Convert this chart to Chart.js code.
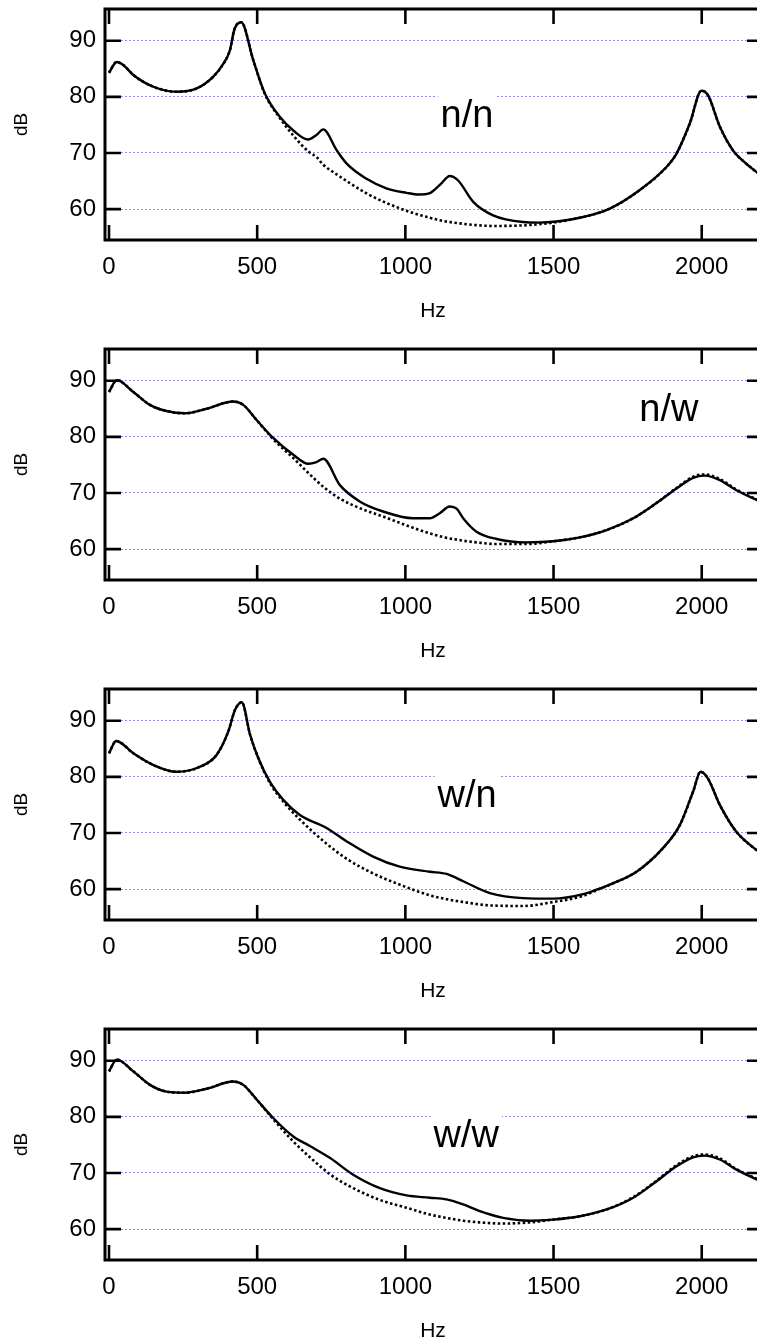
<!DOCTYPE html>
<html>
<head>
<meta charset="utf-8">
<script src="https://cdn.jsdelivr.net/npm/chart.js@4.4.1/dist/chart.umd.min.js"></script>
<style>
  html, body { margin: 0; padding: 0; background: #fff; overflow: hidden; }
  #wrap { width: 757px; height: 1344px; overflow: hidden; }
  .panel { width: 762px; height: 340px; }
  canvas { display: block; }
</style>
</head>
<body>
<div id="wrap">
  <div class="panel"><canvas id="cNN" width="762" height="340"></canvas></div>
  <div class="panel"><canvas id="cNW" width="762" height="340"></canvas></div>
  <div class="panel"><canvas id="cWN" width="762" height="340"></canvas></div>
  <div class="panel"><canvas id="cWW" width="762" height="340"></canvas></div>
</div>
<script>
// ── data (Hz / dB) ──
const X_TICKS = [0, 500, 1000, 1500, 2000];
const Y_TICKS = [60, 70, 80, 90];

// n/n
const NN_FREQ   = [0, 26, 50, 82, 150, 228, 296, 352, 386, 408, 423, 446, 487, 526, 577, 622, 672, 700, 723, 768, 802, 869, 936, 1004, 1045, 1080, 1116, 1150, 1178, 1229, 1296, 1397, 1450, 1510, 1600, 1690, 1791, 1881, 1915, 1960, 1999, 2021, 2061, 2105, 2150, 2200];
const NN_SOLID  = [84.3, 86.2, 85.6, 83.9, 81.8, 80.9, 81.5, 83.6, 85.9, 88.3, 92.0, 93.3, 86.5, 80.6, 76.4, 74.0, 72.4, 73.2, 74.2, 70.5, 68.1, 65.4, 63.7, 62.9, 62.6, 62.8, 64.3, 65.9, 65.1, 61.3, 58.9, 57.7, 57.6, 57.8, 58.6, 60.1, 63.4, 67.5, 69.9, 75.3, 81.1, 80.3, 74.7, 70.5, 68.1, 66.0];
const NN_DOTTED = [84.3, 86.2, 85.6, 83.9, 81.8, 80.9, 81.5, 83.6, 85.9, 88.3, 92.0, 93.3, 86.5, 80.5, 76.2, 73.1, 70.3, 69.3, 67.9, 66.2, 65.0, 62.8, 61.1, 59.7, 59.0, 58.5, 58.0, 57.7, 57.5, 57.2, 57.0, 57.1, 57.3, 57.7, 58.6, 60.1, 63.4, 67.5, 69.9, 75.3, 81.1, 80.3, 74.7, 70.5, 68.1, 66.0];

// n/w
const NW_FREQ   = [0, 26, 82, 138, 194, 256, 329, 419, 453, 498, 554, 622, 672, 700, 723, 779, 846, 925, 1026, 1082, 1116, 1150, 1173, 1195, 1240, 1308, 1409, 1499, 1589, 1679, 1769, 1847, 1915, 1971, 2010, 2061, 2117, 2200];
const NW_SOLID  = [88.0, 90.1, 88.0, 85.7, 84.6, 84.2, 85.0, 86.3, 85.7, 83.0, 79.8, 76.8, 75.2, 75.5, 76.1, 71.4, 68.5, 66.7, 65.5, 65.5, 66.4, 67.6, 67.2, 65.5, 63.1, 61.8, 61.2, 61.4, 62.1, 63.4, 65.5, 68.2, 70.8, 72.7, 73.1, 72.3, 70.5, 68.4];
const NW_DOTTED = [88.0, 90.1, 88.0, 85.7, 84.6, 84.2, 85.0, 86.3, 85.7, 83.0, 79.6, 76.2, 73.6, 72.2, 71.1, 69.0, 67.3, 65.8, 63.8, 62.8, 62.3, 61.9, 61.7, 61.5, 61.2, 60.9, 60.9, 61.4, 62.1, 63.4, 65.5, 68.2, 70.9, 72.9, 73.3, 72.5, 70.6, 68.5];

// w/n
const WN_FREQ   = [0, 24, 82, 150, 228, 307, 363, 402, 425, 448, 476, 504, 543, 588, 644, 734, 802, 891, 981, 1082, 1139, 1195, 1285, 1397, 1499, 1600, 1645, 1690, 1780, 1869, 1926, 1971, 1996, 2021, 2061, 2117, 2200];
const WN_SOLID  = [84.2, 86.4, 84.2, 82.1, 80.9, 81.8, 83.9, 88.0, 91.9, 93.3, 87.5, 83.3, 79.1, 75.9, 73.2, 70.9, 68.5, 65.8, 64.0, 63.1, 62.7, 61.4, 59.3, 58.4, 58.3, 59.1, 59.9, 60.8, 63.1, 67.3, 71.4, 77.4, 80.9, 79.7, 75.0, 70.2, 66.3];
const WN_DOTTED = [84.2, 86.4, 84.2, 82.1, 80.9, 81.8, 83.9, 88.0, 91.9, 93.3, 87.5, 83.3, 78.9, 75.6, 72.4, 68.1, 65.4, 62.8, 60.8, 58.9, 58.2, 57.7, 57.1, 57.0, 57.7, 58.8, 59.8, 60.8, 63.1, 67.3, 71.4, 77.4, 80.9, 79.7, 75.0, 70.2, 66.3];

// w/w
const WW_FREQ   = [0, 26, 82, 138, 194, 256, 329, 419, 453, 498, 554, 622, 678, 745, 824, 914, 1004, 1082, 1139, 1195, 1251, 1330, 1420, 1499, 1589, 1679, 1769, 1847, 1915, 1971, 2010, 2061, 2117, 2200];
const WW_SOLID  = [88.1, 90.2, 88.1, 85.7, 84.5, 84.3, 85.0, 86.3, 85.7, 83.1, 79.8, 76.5, 74.8, 72.7, 69.7, 67.3, 66.0, 65.6, 65.3, 64.4, 63.2, 62.0, 61.5, 61.7, 62.3, 63.5, 65.6, 68.5, 71.2, 72.8, 73.1, 72.4, 70.6, 68.5];
const WW_DOTTED = [88.1, 90.2, 88.1, 85.7, 84.5, 84.3, 85.0, 86.3, 85.7, 83.1, 79.6, 75.6, 72.8, 69.8, 67.3, 65.2, 63.8, 62.6, 62.0, 61.5, 61.2, 61.0, 61.2, 61.7, 62.3, 63.5, 65.7, 68.6, 71.4, 73.0, 73.3, 72.6, 70.7, 68.6];

const FONT = 'Liberation Sans, Arial, Helvetica, sans-serif';

/* ═══ PLUGINS ═══ */
// box frame + inward tick marks on all four sides
const framePlugin = {
  id: 'frame',
  afterDraw(chart) {
    const { ctx, chartArea: a, scales } = chart;
    ctx.save();
    ctx.strokeStyle = '#000';
    ctx.lineWidth = 2.6;
    ctx.setLineDash([]);
    X_TICKS.forEach(v => {
      const px = scales.x.getPixelForValue(v);
      ctx.beginPath();
      ctx.moveTo(px, a.top); ctx.lineTo(px, a.top + 15);
      ctx.moveTo(px, a.bottom); ctx.lineTo(px, a.bottom - 15);
      ctx.stroke();
    });
    Y_TICKS.forEach(v => {
      const py = scales.y.getPixelForValue(v);
      ctx.beginPath();
      ctx.moveTo(a.left, py); ctx.lineTo(a.left + 16, py);
      ctx.moveTo(a.right, py); ctx.lineTo(a.right - 14, py);
      ctx.stroke();
    });
    ctx.lineWidth = 3;
    ctx.strokeRect(a.left, a.top, a.right - a.left, a.bottom - a.top);
    ctx.restore();
  }
};

// panel caption on a white box (cuts the grid line behind it)
const captionPlugin = {
  id: 'caption',
  beforeDatasetsDraw(chart, args, opts) {
    if (!opts.text) return;
    const { ctx, scales } = chart;
    const cx = scales.x.getPixelForValue(opts.x);
    const by = scales.y.getPixelForValue(opts.y);
    ctx.save();
    ctx.font = '38px ' + FONT;
    const w = ctx.measureText(opts.text).width;
    ctx.fillStyle = '#fff';
    ctx.fillRect(cx - w / 2 - 3, by - 34, w + 6, 42);
    ctx.fillStyle = '#000';
    ctx.textAlign = 'center';
    ctx.textBaseline = 'alphabetic';
    ctx.fillText(opts.text, cx, by);
    ctx.restore();
  }
};

/* ═══ CHARTS ═══ */
function makePanel(id, freq, solid, dotted, caption) {
  const ctx = document.getElementById(id).getContext('2d');
  new Chart(ctx, {
    type: 'line',
    data: {
      datasets: [
        {
          data: freq.map((f, i) => ({ x: f, y: solid[i] })),
          borderColor: '#000',
          borderWidth: 2.4,
          pointRadius: 0,
          cubicInterpolationMode: 'monotone',
        },
        {
          data: freq.map((f, i) => ({ x: f, y: dotted[i] })),
          borderColor: '#000',
          borderWidth: 2.6,
          borderDash: [2.5, 2.5],
          pointRadius: 0,
          cubicInterpolationMode: 'monotone',
        }
      ]
    },
    options: {
      responsive: false,
      animation: false,
      devicePixelRatio: 1,
      layout: { padding: { top: 9, right: 1, left: 0, bottom: 0 } },
      plugins: {
        legend: { display: false },
        tooltip: { enabled: false },
        caption: caption
      },
      scales: {
        x: {
          type: 'linear',
          min: -13.5,
          max: 2200,
          afterBuildTicks: s => { s.ticks = X_TICKS.map(v => ({ value: v })); },
          afterFit: s => { s.height = 100; s.paddingLeft = 0; s.paddingRight = 0; },
          grid: { display: false, drawTicks: false },
          border: { display: false },
          ticks: { padding: 13, color: '#000', font: { family: FONT, size: 24 }, callback: v => String(v) },
          title: { display: true, text: 'Hz', color: '#000', font: { family: FONT, size: 21 }, padding: { top: 0, bottom: 16 } }
        },
        y: {
          min: 54.5,
          max: 95.65,
          afterBuildTicks: s => { s.ticks = Y_TICKS.map(v => ({ value: v })); },
          afterFit: s => { s.width = 105; s.paddingTop = 0; s.paddingBottom = 0; },
          grid: { color: '#8a8aff', lineWidth: 1, drawTicks: false },
          border: { display: false, dash: [2, 2] },
          ticks: { padding: 9, color: '#000', font: { family: FONT, size: 24 }, callback: v => String(v) },
          title: { display: true, text: 'dB', color: '#000', font: { family: FONT, size: 19 }, padding: { top: 10, bottom: 0 } }
        }
      }
    },
    plugins: [captionPlugin, framePlugin]
  });
}

document.addEventListener('DOMContentLoaded', () => {
  makePanel('cNN', NN_FREQ, NN_SOLID, NN_DOTTED, { text: 'n/n', x: 1208, y: 74.6 });
  makePanel('cNW', NW_FREQ, NW_SOLID, NW_DOTTED, { text: 'n/w', x: 1889, y: 82.8 });
  makePanel('cWN', WN_FREQ, WN_SOLID, WN_DOTTED, { text: 'w/n', x: 1208, y: 74.6 });
  makePanel('cWW', WW_FREQ, WW_SOLID, WW_DOTTED, { text: 'w/w', x: 1205, y: 74.7 });
});
</script>
</body>
</html>
